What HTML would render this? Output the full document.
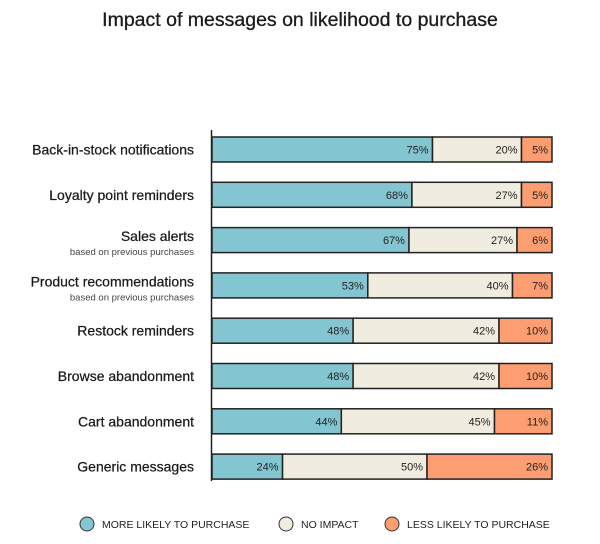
<!DOCTYPE html>
<html><head><meta charset="utf-8"><style>
body{margin:0;background:#fff;}
svg{display:block;font-family:"Liberation Sans",sans-serif;}
</style></head><body>
<svg width="600" height="544" viewBox="0 0 600 544">
<text x="300" y="26" text-anchor="middle" font-size="19.5" fill="#1a1a1a" stroke="#1a1a1a" stroke-width="0.3">Impact of messages on likelihood to purchase</text>
<g id="bars"></g>
<line x1="211.5" y1="130" x2="211.5" y2="481" stroke="#222" stroke-width="1.5"/>
<g>
<g><circle cx="87" cy="524" r="7" fill="#83c6d1" stroke="#333"/><text x="102" y="528" font-size="10.5" fill="#222">MORE LIKELY TO PURCHASE</text></g>
<g><circle cx="286" cy="524" r="7" fill="#f0ede0" stroke="#333"/><text x="301" y="528" font-size="10.5" fill="#222">NO IMPACT</text></g>
<g><circle cx="392" cy="524" r="7" fill="#fd9d72" stroke="#333"/><text x="407" y="528" font-size="10.5" fill="#222">LESS LIKELY TO PURCHASE</text></g>
</g>
</svg>
<script>
const categories=["Back-in-stock notifications","Loyalty point reminders","Sales alerts","Product recommendations","Restock reminders","Browse abandonment","Cart abandonment","Generic messages"];
const subtitles=["","","based on previous purchases","based on previous purchases","","","",""];
const moreLikely=[75,68,67,53,48,48,44,24];
const noImpact=[20,27,27,40,42,42,45,50];
const lessLikely=[5,5,6,7,10,10,11,26];
const colors=["#83c6d1","#f0ede0","#fd9d72"];
const X0=212,X1=552,Y0=137,STEP=45.3,BH=25;
const blueW=v=>2.94*v;
const orangeW=v=>4.5*v+8;
const y=i=>Y0+i*STEP;
const ns="http://www.w3.org/2000/svg";
const g=document.getElementById("bars");
function mk(t,a){const e=document.createElementNS(ns,t);for(const k in a)e.setAttribute(k,a[k]);return e;}
categories.forEach((c,i)=>{
  const vals=[moreLikely[i],noImpact[i],lessLikely[i]];
  const b1=X0+blueW(vals[0]);
  const b2=X1-orangeW(vals[2]);
  const bounds=[[X0,b1],[b1,b2],[b2,X1]];
  vals.forEach((v,j)=>{
    const a=bounds[j][0],b=bounds[j][1];
    const r=mk("rect",{x:a,y:y(i),width:b-a,height:BH,fill:colors[j],stroke:"#222","stroke-width":1.5});
    
    
    g.appendChild(r);
    const t=mk("text",{x:b-4,y:y(i)+BH/2+4,"text-anchor":"end","font-size":11,fill:"#222"});
    t.textContent=v+"%";
    
    
    g.appendChild(t);
  });
  const sub=subtitles[i];
  const l=mk("text",{x:194,y:y(i)+BH/2+(sub?1:5),"text-anchor":"end","font-size":14,fill:"#1a1a1a",stroke:"#1a1a1a","stroke-width":0.25});
  l.textContent=c;
  
  
  g.appendChild(l);
  if(sub){
    const s=mk("text",{x:194,y:y(i)+BH/2+15,"text-anchor":"end","font-size":9.5,fill:"#444"});
    s.textContent=sub;
    
    
    g.appendChild(s);
  }
});
</script>
</body></html>
